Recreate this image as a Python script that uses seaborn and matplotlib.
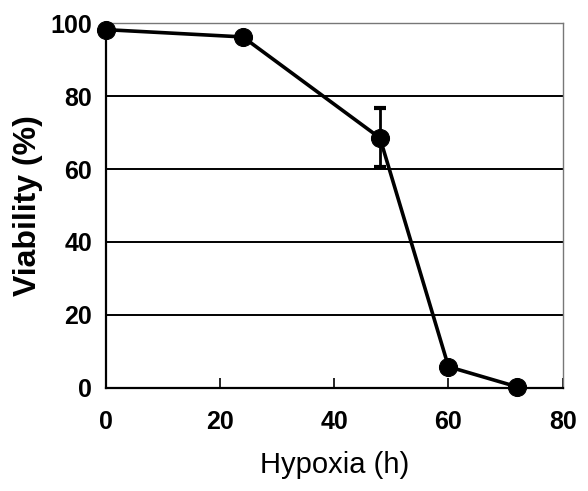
import numpy as np
import pandas as pd
import matplotlib
matplotlib.use('Agg')
import matplotlib.pyplot as plt
import seaborn as sns

# данные: жизнеспособность клеток при гипоксии
hours = [0, 24, 48, 60, 72]
viability = [98.2, 96.2, 68.5, 5.8, 0.3]
err_low = [0, 0, 8, 0, 0]
err_high = [0, 0, 8.2, 0, 0]

df = pd.DataFrame({'hours': hours, 'viability': viability,
                   'err_low': err_low, 'err_high': err_high})

sns.set_style('white')
plt.rcParams['font.family'] = ['Liberation Sans Narrow', 'Liberation Sans', 'DejaVu Sans']
plt.rcParams['text.color'] = 'black'
plt.rcParams['xtick.color'] = 'black'
plt.rcParams['ytick.color'] = 'black'
plt.rcParams['axes.labelcolor'] = 'black'

fig = plt.figure(figsize=(5.88, 4.91), dpi=100)
ax = fig.add_axes([0.180, 0.210, 0.777, 0.743])

# сетка по y
for yv in [20, 40, 60, 80]:
    ax.axhline(yv, color='black', lw=1.4, zorder=1)

e = df[df['err_high'] > 0]
ax.errorbar(e['hours'], e['viability'], yerr=[e['err_low'], e['err_high']],
            fmt='none', ecolor='black', elinewidth=2, capsize=4, capthick=3, zorder=2)
sns.lineplot(data=df, x='hours', y='viability', color='black', lw=2.6,
             marker='o', markersize=13, markeredgecolor='black', ax=ax, zorder=3,
             clip_on=False)

ax.set_xlim(0, 80)
ax.set_ylim(0, 100)
ax.set_xticks([0, 20, 40, 60, 80])
ax.set_yticks([0, 20, 40, 60, 80, 100])

for s in ['top', 'right']:
    ax.spines[s].set_linestyle((0, (1, 1)))
    ax.spines[s].set_color('#777777')
    ax.spines[s].set_linewidth(1)
for s in ['left', 'bottom']:
    ax.spines[s].set_color('black')
    ax.spines[s].set_linewidth(1.6)

ax.tick_params(axis='x', direction='in', length=7, width=1.2, bottom=True,
               labelsize=18, pad=16)
ax.tick_params(axis='y', length=0, labelsize=18, pad=10)
for lbl in ax.get_xticklabels() + ax.get_yticklabels():
    lbl.set_fontweight('bold')

ax.set_xlabel('Hypoxia (h)', fontsize=21, labelpad=12)
ax.set_ylabel('Viability (%)', fontsize=23, fontweight='bold', labelpad=5)

plt.savefig('out.png', dpi=100)
